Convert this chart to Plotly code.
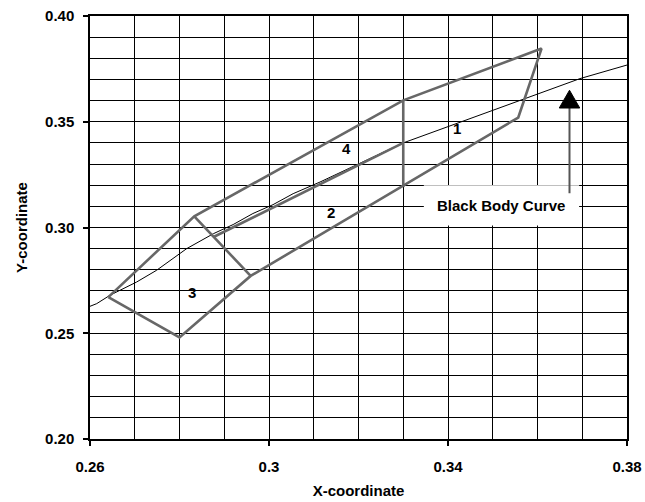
import plotly.graph_objects as go

# Chromaticity quadrangles around the black body locus
outline_x = [0.2641, 0.2800, 0.2959, 0.3557, 0.3609, 0.3300, 0.2833, 0.2641]
outline_y = [0.2671, 0.2480, 0.2771, 0.3520, 0.3846, 0.3601, 0.3053, 0.2671]

divider_24_x = [0.2876, 0.3300]
divider_24_y = [0.2955, 0.3400]
divider_1_x = [0.3300, 0.3300]
divider_1_y = [0.3601, 0.3191]
divider_3_x = [0.2833, 0.2959]
divider_3_y = [0.3053, 0.2771]

# Black body (Planckian) locus
bb_x = [0.2596, 0.2615, 0.2645, 0.2704, 0.2749, 0.2801, 0.2816, 0.2876, 0.2920,
        0.2964, 0.3009, 0.3054, 0.3114, 0.3300, 0.3561, 0.3695, 0.3803]
bb_y = [0.2624, 0.2640, 0.2680, 0.2742, 0.2798, 0.2877, 0.2900, 0.2971, 0.3014,
        0.3066, 0.3108, 0.3160, 0.3215, 0.3400, 0.3601, 0.3704, 0.3770]

# Region labels
region_labels = ["1", "2", "3", "4"]
region_x = [0.3419, 0.3139, 0.2829, 0.3174]
region_y = [0.3468, 0.3073, 0.2695, 0.3373]

# Callout for the curve
callout_text = "Black Body Curve"
callout_box_x = [0.3346, 0.3693]
callout_box_y = [0.3010, 0.3200]
arrow_x = 0.36715
arrow_tail_y = 0.3162
arrow_base_y = 0.3565
arrow_tip_y = 0.3649
arrow_half_w = 0.00229

# Axis ticks
x_ticks = [0.26, 0.30, 0.34, 0.38]
x_tick_text = ["0.26", "0.3", "0.34", "0.38"]
y_ticks = [0.20, 0.25, 0.30, 0.35, 0.40]
y_tick_text = ["0.20", "0.25", "0.30", "0.35", "0.40"]

FONT = "Liberation Sans, Arial, sans-serif"
GRAY = "#676767"

fig = go.Figure()

# White box behind the callout text (a filled trace so it sits above the grid)
bx = [callout_box_x[0], callout_box_x[1], callout_box_x[1], callout_box_x[0], callout_box_x[0]]
by = [callout_box_y[0], callout_box_y[0], callout_box_y[1], callout_box_y[1], callout_box_y[0]]
fig.add_trace(go.Scatter(x=bx, y=by, mode="lines", fill="toself", fillcolor="white",
                         line=dict(color="white", width=0), hoverinfo="skip"))

fig.add_trace(go.Scatter(x=bb_x, y=bb_y, mode="lines",
                         line=dict(color="black", width=1), hoverinfo="skip"))
for xs, ys in [(outline_x, outline_y), (divider_24_x, divider_24_y),
               (divider_1_x, divider_1_y), (divider_3_x, divider_3_y)]:
    fig.add_trace(go.Scatter(x=xs, y=ys, mode="lines",
                             line=dict(color=GRAY, width=2.6), hoverinfo="skip"))

# Arrow shaft and head
fig.add_trace(go.Scatter(x=[arrow_x, arrow_x], y=[arrow_tail_y, arrow_base_y], mode="lines",
                         line=dict(color="#555555", width=2), hoverinfo="skip"))
fig.add_trace(go.Scatter(x=[arrow_x - arrow_half_w, arrow_x + arrow_half_w, arrow_x, arrow_x - arrow_half_w],
                         y=[arrow_base_y, arrow_base_y, arrow_tip_y, arrow_base_y],
                         mode="lines", fill="toself", fillcolor="black",
                         line=dict(color="black", width=1), hoverinfo="skip"))

fig.add_annotation(x=sum(callout_box_x) / 2, y=sum(callout_box_y) / 2,
                   text=callout_text, showarrow=False,
                   font=dict(family=FONT, size=15, color="black", weight="bold"))

for t, x, y in zip(region_labels, region_x, region_y):
    fig.add_annotation(x=x, y=y, text=t, showarrow=False,
                       font=dict(family=FONT, size=15, color="black", weight="bold"))

axis_common = dict(
    showline=True, linecolor="black", linewidth=1.5, mirror=True,
    showgrid=True, gridcolor="black", gridwidth=1,
    ticks="outside", ticklen=5, tickwidth=1.5, tickcolor="black",
    zeroline=False, automargin=False,
    tickfont=dict(family=FONT, size=15, color="black", weight="bold"),
)

fig.update_xaxes(range=[0.26, 0.38], tickvals=x_ticks, ticktext=x_tick_text,
                 minor=dict(tick0=0.26, dtick=0.01, showgrid=True, gridcolor="black",
                            gridwidth=1, ticks=""),
                 ticklabelstandoff=8,
                 title=dict(text="X-coordinate", standoff=12,
                            font=dict(family=FONT, size=15, color="black", weight="bold")),
                 **axis_common)
fig.update_yaxes(range=[0.20, 0.40], tickvals=y_ticks, ticktext=y_tick_text,
                 minor=dict(tick0=0.20, dtick=0.01, showgrid=True, gridcolor="black",
                            gridwidth=1, ticks=""),
                 ticklabelstandoff=6,
                 title=dict(text="Y-coordinate", standoff=14,
                            font=dict(family=FONT, size=15, color="black", weight="bold")),
                 **axis_common)

fig.update_layout(
    width=645, height=502, autosize=False,
    margin=dict(l=90, r=18, t=16, b=63, pad=0),
    paper_bgcolor="white", plot_bgcolor="white",
    showlegend=False,
)

fig.write_html("out.html", config={"responsive": False, "displayModeBar": False})
